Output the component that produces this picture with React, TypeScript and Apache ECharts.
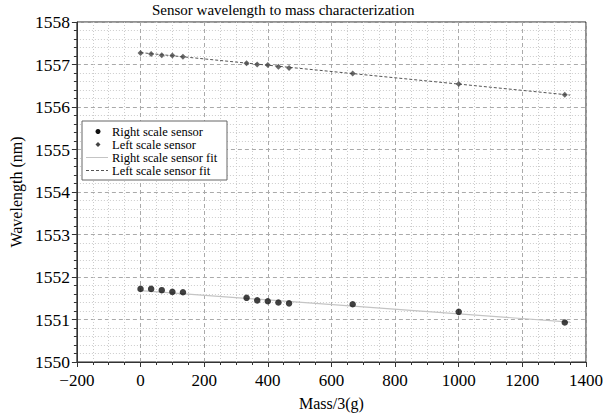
import React, { useEffect, useRef } from "react";
import * as echarts from "echarts";

const massX = [0, 33.3, 66.7, 100, 133.3, 333.3, 366.7, 400, 433.3, 466.7, 666.7, 1000, 1333.3];
const rightScale = [1551.72, 1551.72, 1551.69, 1551.65, 1551.64, 1551.51, 1551.45, 1551.43, 1551.40, 1551.38, 1551.36, 1551.18, 1550.93];
const leftScale = [1557.27, 1557.25, 1557.22, 1557.21, 1557.18, 1557.03, 1557.0, 1556.99, 1556.95, 1556.92, 1556.79, 1556.54, 1556.29];
const fitX = [0, 1350];
const rightFit = [1551.68, 1550.94];
const leftFit = [1557.28, 1556.28];
const legendNames = ["Right scale sensor", "Left scale sensor", "Right scale sensor fit", "Left scale sensor fit"];

const FONT = "'Liberation Serif', 'Times New Roman', serif";

export default function App() {
  const ref = useRef<HTMLDivElement>(null);
  useEffect(() => {
    if (!ref.current) return;
    const chart = echarts.init(ref.current, null, { renderer: "svg" });
    const pair = (xs: number[], ys: number[]) => xs.map((x, i) => [x, ys[i]]);
    const fmt = (v: number) => String(v).replace("-", "\u2212");

    const LX = 82, LY = 121, LW = 145, LH = 59, ROW = 13;
    const rowY = (i: number) => LY + 10.5 + i * ROW;
    const legendGraphics: any[] = [
      { type: "rect", shape: { x: LX, y: LY, width: LW, height: LH }, style: { fill: "#fff", stroke: "#666", lineWidth: 1 }, z: 100 },
      { type: "circle", shape: { cx: 98, cy: rowY(0), r: 2.5 }, style: { fill: "#111" }, z: 101 },
      { type: "polygon", shape: { points: [[98, rowY(1) - 2.5], [100.5, rowY(1)], [98, rowY(1) + 2.5], [95.5, rowY(1)]] }, style: { fill: "#444" }, z: 101 },
      { type: "line", shape: { x1: 86, y1: rowY(2), x2: 108, y2: rowY(2) }, style: { stroke: "#c4c4c4", lineWidth: 1 }, z: 101 },
      { type: "line", shape: { x1: 86, y1: rowY(3), x2: 108, y2: rowY(3) }, style: { stroke: "#555", lineWidth: 1, lineDash: [3, 2] }, z: 101 },
      ...legendNames.map((n, i) => ({
        type: "text",
        x: 112,
        y: rowY(i),
        style: { text: n, fontFamily: FONT, fontSize: 12.5, fill: "#000", textVerticalAlign: "middle", textAlign: "left" },
        z: 101,
      })),
    ];

    chart.setOption({
      animation: false,
      backgroundColor: "#fff",
      textStyle: { fontFamily: FONT, color: "#000" },
      title: {
        text: "Sensor wavelength to mass characterization",
        left: 152,
        top: 2,
        padding: 0,
        textStyle: { fontFamily: FONT, fontSize: 15, fontWeight: "normal", color: "#000" },
      },
      grid: { left: 67, right: 13, top: 22, bottom: 54, show: true, borderColor: "#222", borderWidth: 1 },
      graphic: legendGraphics,
      xAxis: {
        type: "value",
        min: -200,
        max: 1400,
        interval: 200,
        name: "Mass/3(g)",
        nameLocation: "middle",
        nameGap: 33,
        nameTextStyle: { fontFamily: FONT, fontSize: 16, color: "#000" },
        axisLine: { show: true, onZero: false, lineStyle: { color: "#333" } },
        axisTick: { show: true, length: 5, lineStyle: { color: "#333" } },
        minorTick: { show: true, splitNumber: 4, length: 3, lineStyle: { color: "#333" } },
        axisLabel: { fontFamily: FONT, fontSize: 17, color: "#000", margin: 10, formatter: fmt },
        splitLine: { show: true, lineStyle: { color: "#aaa", type: [4, 3], width: 1 } },
        minorSplitLine: { show: true, lineStyle: { color: "#ccc", type: [1, 2], width: 1 } },
      },
      yAxis: {
        type: "value",
        min: 1550,
        max: 1558,
        interval: 1,
        name: "Wavelength (nm)",
        nameLocation: "middle",
        nameGap: 50,
        nameTextStyle: { fontFamily: FONT, fontSize: 16, color: "#000" },
        axisLine: { show: true, onZero: false, lineStyle: { color: "#333" } },
        axisTick: { show: true, length: 5, lineStyle: { color: "#333" } },
        minorTick: { show: true, splitNumber: 5, length: 3, lineStyle: { color: "#333" } },
        axisLabel: { fontFamily: FONT, fontSize: 17.5, color: "#000", margin: 7, formatter: fmt },
        splitLine: { show: true, lineStyle: { color: "#aaa", type: [4, 3], width: 1 } },
        minorSplitLine: { show: true, lineStyle: { color: "#ccc", type: [1, 2], width: 1 } },
      },
      series: [
        {
          name: "Right scale sensor fit",
          type: "line",
          data: pair(fitX, rightFit),
          symbol: "none",
          lineStyle: { color: "#c4c4c4", width: 1.2 },
          z: 2,
        },
        {
          name: "Left scale sensor fit",
          type: "line",
          data: pair(fitX, leftFit),
          symbol: "none",
          lineStyle: { color: "#555", width: 1, type: [3, 2] },
          z: 2,
        },
        {
          name: "Right scale sensor",
          type: "scatter",
          data: pair(massX, rightScale),
          symbol: "circle",
          symbolSize: 6.5,
          itemStyle: { color: "#111" },
          z: 3,
        },
        {
          name: "Left scale sensor",
          type: "scatter",
          data: pair(massX, leftScale),
          symbol: "diamond",
          symbolSize: 6,
          itemStyle: { color: "#444" },
          z: 3,
        },
      ],
    });
    return () => chart.dispose();
  }, []);
  return <div ref={ref} style={{ position: "fixed", left: 0, top: 0, width: 606, height: 416 }} />;
}
